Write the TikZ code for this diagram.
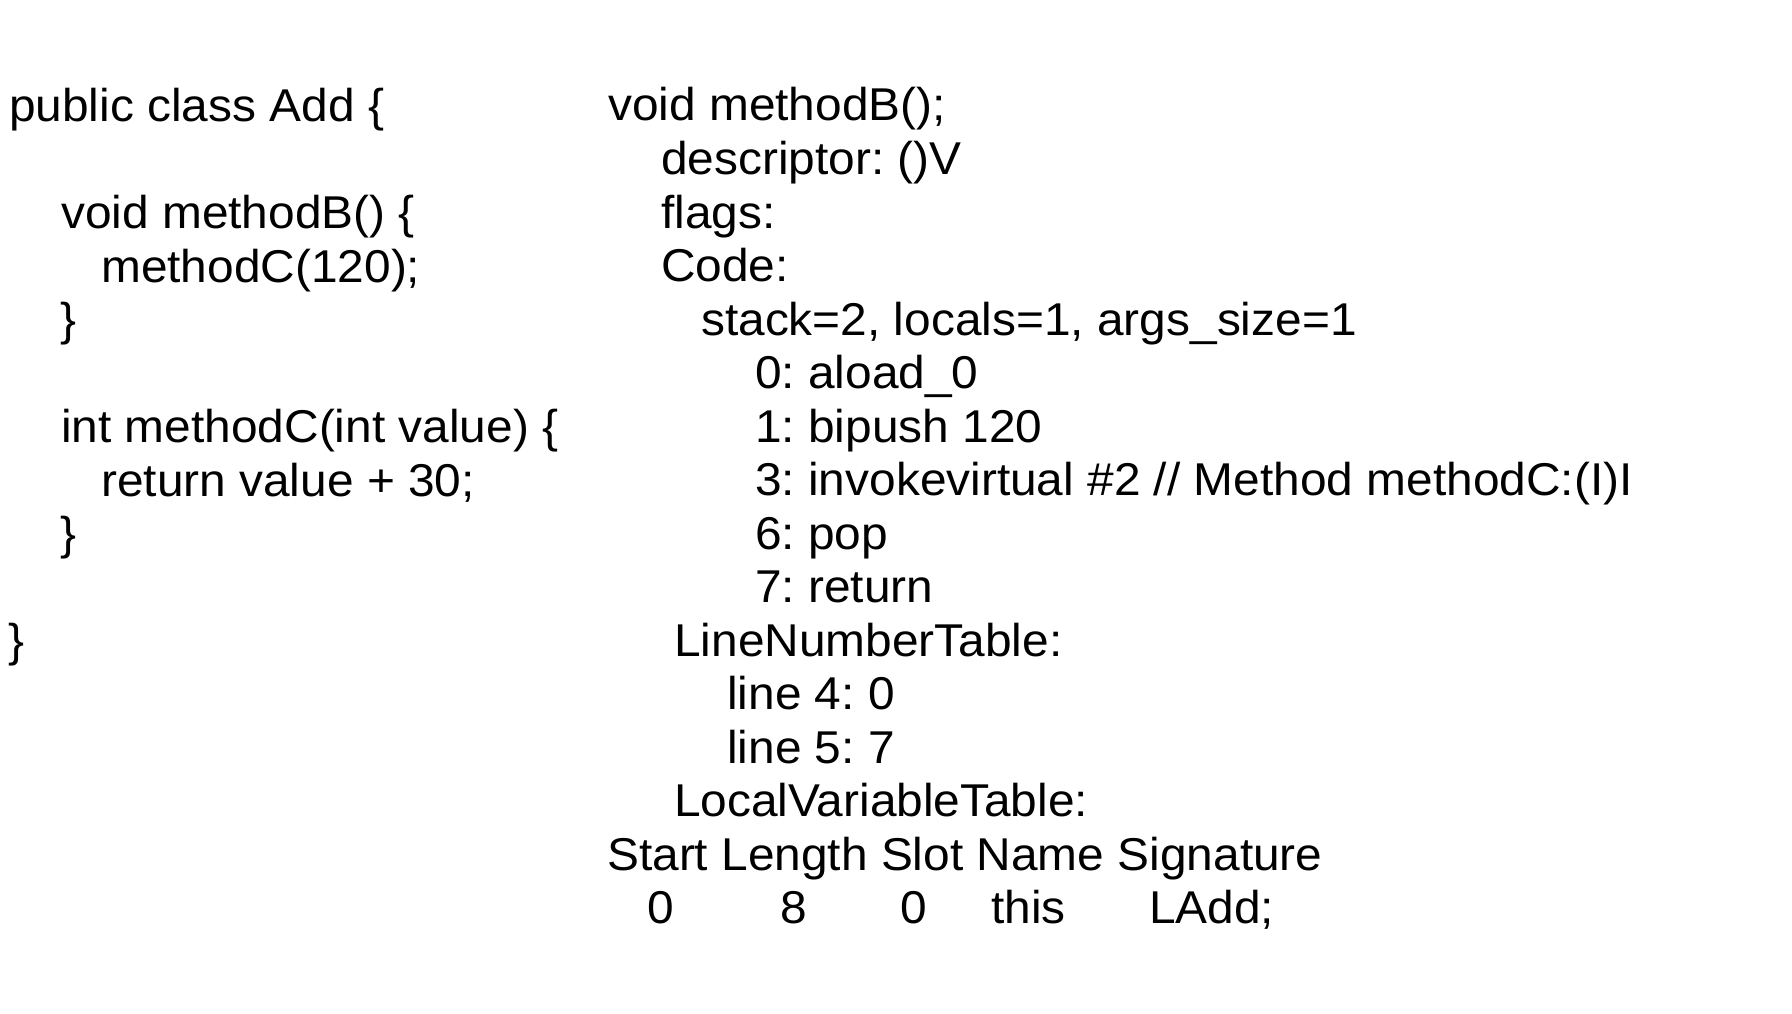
\documentclass[tikz,border=0pt]{standalone}
\usepackage{fontspec}
\setmainfont{Liberation Sans}[FakeStretch=1.04]
\frenchspacing
\begin{document}
\frenchspacing
\begin{tikzpicture}[x=1pt,y=-1pt,
  code/.style={anchor=base west, inner sep=0pt, text=black,
    font=\fontsize{46pt}{54pt}\selectfont\frenchspacing}]
\fill[white] (0,0) rectangle (1792,1014);
\useasboundingbox (0,0) rectangle (1792,1014);
% left column: Java source
\node[code] (s0) at (9,122) {public class Add \{};
\node[code] (s2) at (61,228) {void methodB() \{};
\node[code] (s3) at (101,282) {methodC(120);};
\node[code] (s4) at (60,335) {\}};
\node[code] (s6) at (61,442) {int methodC(int value) \{};
\node[code] (s7) at (101,496) {return value + 30;};
\node[code] (s8) at (60,549) {\}};
\node[code] (s10) at (8,656) {\}};
% right column: bytecode
\node[code] (r0) at (608,121) {void methodB();};
\node[code] (r1) at (661,174.5) {descriptor: ()V};
\node[code] (r2) at (661,228) {flags:};
\node[code] (r3) at (661,281.5) {Code:};
\node[code] (r4) at (701,335) {stack=2, locals=1, args\_size=1};
\node[code] (r5) at (755,388.5) {0: aload\_0};
\node[code] (r6) at (755,442) {1: bipush 120};
\node[code] (r7) at (755,495.5) {3: invokevirtual \#2 // Method methodC:(I)I};
\node[code] (r8) at (755,549) {6: pop};
\node[code] (r9) at (755,602.5) {7: return};
\node[code] (r10) at (674,656) {LineNumberTable:};
\node[code] (r11) at (727,709.5) {line 4: 0};
\node[code] (r12) at (727,763) {line 5: 7};
\node[code] (r13) at (674,816.5) {LocalVariableTable:};
\node[code] (r14) at (607,870) {Start Length Slot Name Signature};
\node[code] (t0) at (647,923.5) {0};
\node[code] (t1) at (780,923.5) {8};
\node[code] (t2) at (900,923.5) {0};
\node[code] (t3) at (991,923.5) {this};
\node[code] (t4) at (1149,923.5) {LAdd;};
\end{tikzpicture}
\end{document}
